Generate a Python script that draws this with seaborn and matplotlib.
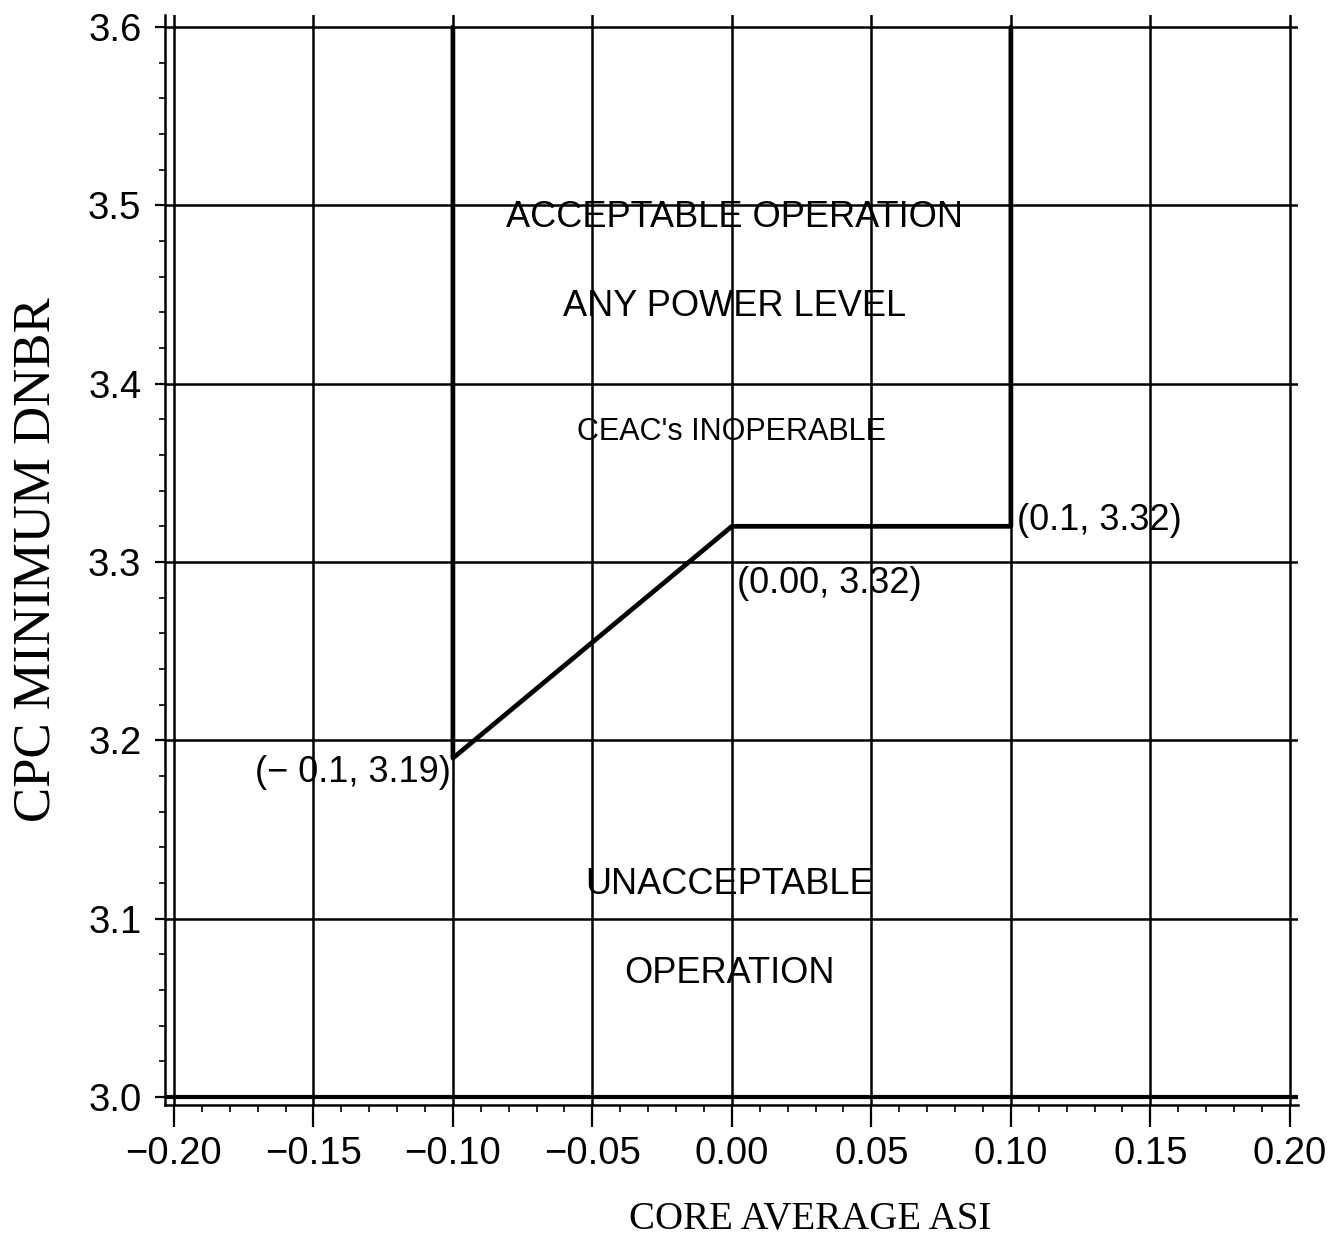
import numpy as np
import pandas as pd
import matplotlib
matplotlib.use("Agg")
import matplotlib.pyplot as plt
import seaborn as sns
from matplotlib.ticker import MultipleLocator, FixedLocator, FuncFormatter

# ---------------- data ----------------
boundary_asi = [-0.10, -0.10, 0.00, 0.10, 0.10]
boundary_dnbr = [3.60, 3.19, 3.32, 3.32, 3.60]

x_ticks = [-0.20, -0.15, -0.10, -0.05, 0.00, 0.05, 0.10, 0.15, 0.20]
y_ticks = [3.0, 3.1, 3.2, 3.3, 3.4, 3.5, 3.6]

region_texts = ["ACCEPTABLE OPERATION", "ANY POWER LEVEL", "CEAC's INOPERABLE",
                "UNACCEPTABLE", "OPERATION"]
point_texts = ["(0.1, 3.32)", "(0.00, 3.32)", "(\u2212 0.1, 3.19)"]

x_label = "CORE AVERAGE ASI"
y_label = "CPC MINIMUM DNBR"

# ---------------- style ----------------
sns.set_style("white")
plt.rcParams["font.family"] = ["Liberation Sans", "DejaVu Sans"]
plt.rcParams["text.color"] = "black"
plt.rcParams["axes.labelcolor"] = "black"

fig = plt.figure(figsize=(13.37, 12.53), dpi=100)
ax = fig.add_axes([0.1234, 0.1181, 0.8474, 0.8699])

df = pd.DataFrame({"ASI": boundary_asi, "DNBR": boundary_dnbr})
sns.lineplot(data=df, x="ASI", y="DNBR", sort=False, estimator=None,
             color="black", linewidth=3.4, ax=ax, zorder=3)

ax.set_xlim(-0.2032, 0.2029)
ax.set_ylim(2.9955, 3.6067)

ax.xaxis.set_major_locator(FixedLocator(x_ticks))
ax.yaxis.set_major_locator(FixedLocator(y_ticks))
ax.xaxis.set_minor_locator(MultipleLocator(0.01))
ax.yaxis.set_minor_locator(MultipleLocator(0.02))
ax.xaxis.set_major_formatter(FuncFormatter(
    lambda v, p: ("\u2212" if v < -1e-9 else "") + f"{abs(v):.2f}"))
ax.yaxis.set_major_formatter(FuncFormatter(lambda v, p: f"{v:.1f}"))

ax.grid(True, which="major", color="black", linewidth=1.8)
ax.set_axisbelow(True)
ax.get_ygridlines()[0].set_linewidth(3.0)

for s in ["top", "right"]:
    ax.spines[s].set_visible(False)
for s in ["left", "bottom"]:
    ax.spines[s].set_color("black")
    ax.spines[s].set_linewidth(1.8)

ax.tick_params(axis="x", which="major", direction="out", length=16, width=1.6,
               pad=6, labelsize=27.5, colors="black")
ax.tick_params(axis="x", which="minor", direction="out", length=5, width=1.2,
               colors="black")
ax.tick_params(axis="y", which="major", direction="out", length=7, width=1.6,
               pad=10, labelsize=27.5, colors="black")
ax.tick_params(axis="y", which="minor", direction="out", length=4, width=1.2,
               colors="black")
ax.xaxis.set_tick_params(bottom=True, which="both")
ax.yaxis.set_tick_params(left=True, which="both")

ax.set_xlabel(x_label, fontfamily="Liberation Serif", fontsize=28, color="black")
ax.set_ylabel(y_label, fontfamily="Liberation Serif", fontsize=38, color="black")
ax.xaxis.set_label_coords(0.569, -0.088)
ax.yaxis.set_label_coords(-0.092, 0.50)

# region annotations
ax.text(0.001, 3.493, region_texts[0], ha="center", va="center", fontsize=26, color="black")
ax.text(0.001, 3.443, region_texts[1], ha="center", va="center", fontsize=26, color="black")
ax.text(0.000, 3.373, region_texts[2], ha="center", va="center", fontsize=22, color="black")
ax.text(-0.001, 3.119, region_texts[3], ha="center", va="center", fontsize=26, color="black")
ax.text(-0.001, 3.069, region_texts[4], ha="center", va="center", fontsize=26, color="black")

# point annotations
ax.text(0.1021, 3.323, point_texts[0], ha="left", va="center", fontsize=26, color="black")
ax.text(0.0018, 3.288, point_texts[1], ha="left", va="center", fontsize=26, color="black")
ax.text(-0.1007, 3.182, point_texts[2], ha="right", va="center", fontsize=26, color="black")

fig.savefig("out.png", dpi=100, facecolor="white")
